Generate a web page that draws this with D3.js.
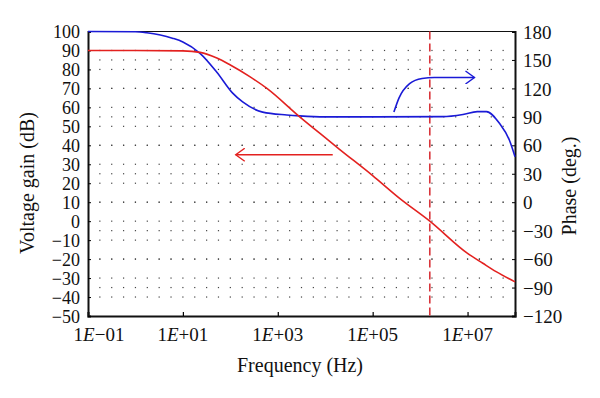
<!DOCTYPE html>
<html>
<head>
<meta charset="utf-8">
<script src="https://cdn.jsdelivr.net/npm/d3@7"></script>
<style>
  body { margin: 0; background: #fff; }
  text { font-family: 'Liberation Serif', 'DejaVu Serif', serif; fill: #111; }
</style>
</head>
<body>
<div id="chart"></div>
<script>
// Gain curve (red, left axis)
const gainFreq = [0.1, 1, 10, 23, 52, 100, 257, 590, 2900, 1e4, 2e4, 1e5, 3.7e5, 1.6e6, 1e7, 2.1e7, 4e7, 1e8]
const gainDb = [90, 90, 89.8, 89, 86, 82.3, 76.2, 70, 55, 44, 37.9, 24, 12, 0, -17, -22.2, -26.6, -32]

// Phase curve (blue, right axis)
const phaseFreq = [0.1, 1, 1.74, 6, 10, 23, 52, 112, 182, 480, 1550, 2900, 1e4, 1e5, 3e6, 8e6, 1.6e7, 2.5e7, 4.7e7, 7.6e7, 1e8]
const phaseDeg = [180, 179.8, 178.7, 173, 169, 157, 137, 115, 105.7, 95, 92, 91, 90, 90, 90.2, 92.5, 95.5, 95.5, 83.2, 65.6, 48]

// Unity gain frequency (dashed marker)
const unityFreq = [1.6e6]

// Annotation arrows
const gainArrowFreq = [1.44e4, 130]
const gainArrowDb = [35, 35]
const phaseArrowFreq = [2.8e5, 3.6e5, 6e5, 1.1e6, 2e6, 1.4e7]
const phaseArrowDeg = [95, 110, 125, 130.5, 131.5, 131.5]

// Ticks
const xTicks = [1e-1, 1e1, 1e3, 1e5, 1e7]
const xTickLabels = ['\u221201', '+01', '+03', '+05', '+07']
const gainTicks = d3.range(-50, 101, 10)
const phaseTicks = d3.range(-120, 181, 30)

const width = 600
const height = 398
const margin = { top: 31.5, right: 85, bottom: 82, left: 88 }
const w = width - margin.left - margin.right
const h = height - margin.top - margin.bottom

const red = '#e3211f'
const blue = '#1a1ad6'

const svg = d3.select('#chart').append('svg')
  .attr('width', width)
  .attr('height', height)

// Arrow markers
const defs = svg.append('defs')
function addMarker(id, color) {
  defs.append('marker')
    .attr('id', id)
    .attr('viewBox', '-10 -7 12 14')
    .attr('refX', 0)
    .attr('refY', 0)
    .attr('markerUnits', 'userSpaceOnUse')
    .attr('markerWidth', 12)
    .attr('markerHeight', 14)
    .attr('orient', 'auto')
    .append('path')
    .attr('d', 'M-9,-6.5L0,0L-9,6.5')
    .attr('fill', 'none')
    .attr('stroke', color)
    .attr('stroke-width', 1.4)
}
addMarker('arrowRed', red)
addMarker('arrowBlue', blue)

const g = svg.append('g')
  .attr('transform', `translate(${margin.left}, ${margin.top})`)

// Scales
const x = d3.scaleLog().domain([1e-1, 1e8]).range([0, w])
const yGain = d3.scaleLinear().domain([-50, 100]).range([h, 0])
const yPhase = d3.scaleLinear().domain([-120, 180]).range([h, 0])

// Dotted grid
const gridCols = d3.range(-0.75, 8, 0.25).map(e => Math.pow(10, e))
const gridRows = gainTicks.slice(1, -1).map(v => yGain(v))
  .concat(phaseTicks.slice(1, -1).map(v => yPhase(v)))
const dots = []
gridRows.forEach(yy => gridCols.forEach(f => dots.push([x(f), yy])))
g.append('g')
  .selectAll('rect')
  .data(dots)
  .enter()
  .append('rect')
  .attr('x', d => d[0] - 0.6)
  .attr('y', d => d[1] - 0.6)
  .attr('width', 1.2)
  .attr('height', 1.2)
  .attr('fill', '#444')

// Axes
const xAxis = d3.axisBottom(x).tickValues(xTicks).tickSize(-4).tickFormat('')
g.append('g')
  .attr('transform', `translate(0, ${h})`)
  .call(xAxis)
  .call(s => s.select('.domain').attr('stroke-width', 2).attr('stroke', '#111'))
  .call(s => s.selectAll('.tick line').attr('stroke-width', 1.2))

g.append('g')
  .attr('class', 'xlabels')
  .selectAll('text')
  .data(xTicks)
  .enter()
  .append('text')
  .attr('x', (d, i) => x(d) + (i === 0 ? 11 : 0))
  .attr('y', h + 25)
  .attr('text-anchor', 'middle')
  .style('font-size', '19px')
  .each(function (d, i) {
    const t = d3.select(this)
    t.append('tspan').text('1')
    t.append('tspan').style('font-style', 'italic').text('E')
    t.append('tspan').text(xTickLabels[i])
  })

const leftAxis = d3.axisLeft(yGain).tickValues(gainTicks).tickSize(-3).tickPadding(8)
  .tickFormat(d => d < 0 ? '\u2212' + Math.abs(d) : d)
g.append('g')
  .call(leftAxis)
  .call(s => s.select('.domain').attr('stroke-width', 2).attr('stroke', '#111'))
  .call(s => s.selectAll('text').style('font-size', '18px').attr('dy', '0.35em'))

const rightAxis = d3.axisRight(yPhase).tickValues(phaseTicks).tickSize(-3).tickPadding(8)
  .tickFormat(d => d < 0 ? '\u2212' + Math.abs(d) : d)
g.append('g')
  .attr('transform', `translate(${w}, 0)`)
  .call(rightAxis)
  .call(s => s.select('.domain').attr('stroke-width', 2).attr('stroke', '#111'))
  .call(s => s.selectAll('text').style('font-size', '19px').attr('dy', '0.35em'))

// Top frame line
g.append('line')
  .attr('x1', 0).attr('x2', w)
  .attr('y1', 0).attr('y2', 0)
  .attr('stroke', '#111')
  .attr('stroke-width', 1.2)

// Unity gain marker
g.selectAll('.unity')
  .data(unityFreq)
  .enter()
  .append('line')
  .attr('class', 'unity')
  .attr('x1', d => x(d)).attr('x2', d => x(d))
  .attr('y1', 0).attr('y2', h)
  .attr('stroke', '#d8343a')
  .attr('stroke-width', 1.6)
  .attr('stroke-dasharray', '8,4')

// Curves
const gainLine = d3.line()
  .x(d => x(d[0]))
  .y(d => yGain(d[1]))
  .curve(d3.curveMonotoneX)
const phaseLine = d3.line()
  .x(d => x(d[0]))
  .y(d => yPhase(d[1]))
  .curve(d3.curveMonotoneX)

g.append('path')
  .datum(d3.zip(phaseFreq, phaseDeg))
  .attr('d', phaseLine)
  .attr('fill', 'none')
  .attr('stroke', blue)
  .attr('stroke-width', 1.6)

g.append('path')
  .datum(d3.zip(gainFreq, gainDb))
  .attr('d', gainLine)
  .attr('fill', 'none')
  .attr('stroke', red)
  .attr('stroke-width', 1.6)

// Arrows
g.append('path')
  .datum(d3.zip(gainArrowFreq, gainArrowDb))
  .attr('d', d3.line().x(d => x(d[0])).y(d => yGain(d[1])))
  .attr('fill', 'none')
  .attr('stroke', red)
  .attr('stroke-width', 1.6)
  .attr('marker-end', 'url(#arrowRed)')

g.append('path')
  .datum(d3.zip(phaseArrowFreq, phaseArrowDeg))
  .attr('d', d3.line().x(d => x(d[0])).y(d => yPhase(d[1])).curve(d3.curveMonotoneX))
  .attr('fill', 'none')
  .attr('stroke', blue)
  .attr('stroke-width', 1.6)
  .attr('marker-end', 'url(#arrowBlue)')

// Axis titles
svg.append('text')
  .attr('transform', `translate(34, 183) rotate(-90)`)
  .attr('text-anchor', 'middle')
  .style('font-size', '20px')
  .text('Voltage gain (dB)')

svg.append('text')
  .attr('transform', `translate(576, 186) rotate(-90)`)
  .attr('text-anchor', 'middle')
  .style('font-size', '20px')
  .text('Phase (deg.)')

svg.append('text')
  .attr('x', 300)
  .attr('y', 372)
  .attr('text-anchor', 'middle')
  .style('font-size', '20px')
  .text('Frequency (Hz)')
</script>
</body>
</html>
